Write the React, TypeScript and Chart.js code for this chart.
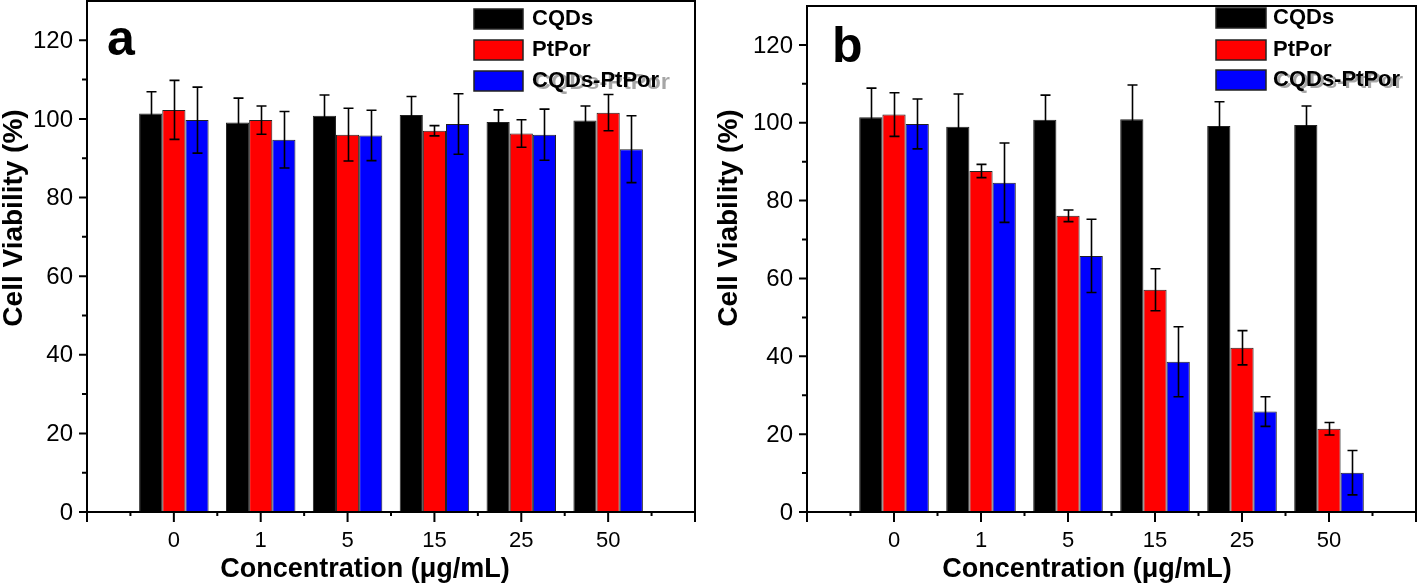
import React, { useEffect, useRef } from 'react';
import { Chart, registerables } from 'chart.js';

Chart.register(...registerables);

// ---------- data ----------
const categories = ['0', '1', '5', '15', '25', '50'];
const seriesNames = ['CQDs', 'PtPor', 'CQDs-PtPor'];
const seriesColors = ['#000000', '#ff0000', '#0000ff'];
const yMajorTicks = [0, 20, 40, 60, 80, 100, 120];
const yMinorTicks = [10, 30, 50, 70, 90, 110];
const xAxisTitle = 'Concentration (\u03bcg/mL)';
const yAxisTitle = 'Cell Viability (%)';

// panel a
const aCQDs = [101.4, 99.1, 100.8, 101.0, 99.2, 99.6];
const aCQDsErr = [5.5, 6.2, 5.3, 4.7, 3.1, 3.7];
const aPtPor = [102.3, 99.7, 96.0, 97.0, 96.3, 101.6];
const aPtPorErr = [7.5, 3.6, 6.7, 1.3, 3.5, 4.6];
const aMix = [99.7, 94.7, 95.8, 98.7, 96.0, 92.3];
const aMixErr = [8.4, 7.2, 6.4, 7.7, 6.5, 8.5];

// panel b
const bCQDs = [101.4, 99.0, 100.8, 100.9, 99.2, 99.4];
const bCQDsErr = [7.5, 8.4, 6.3, 8.8, 6.2, 4.9];
const bPtPor = [102.1, 87.6, 76.1, 57.1, 42.2, 21.4];
const bPtPorErr = [5.6, 1.7, 1.5, 5.4, 4.4, 1.6];
const bMix = [99.7, 84.6, 65.8, 38.6, 25.8, 10.1];
const bMixErr = [6.4, 10.2, 9.4, 9.0, 3.8, 5.7];

const FONT = '"Liberation Sans", Arial, Helvetica, sans-serif';

type PanelCfg = {
  letter: string;
  values: number[][];
  errs: number[][];
  left: number;
  pad: { left: number; right: number; top: number; bottom: number };
  legendBoxX: number;
  legendBoxW: number;
  legendYs: number[];
  legendTextX: number;
  ghostScale: number;
  ghostDx: number;
  yTitleX: number;
  yTitleY: number;
  xTitleX: number;
  letterX: number;
  letterY: number;
};

const W = 709;
const H = 585;

function Panel({ cfg }: { cfg: PanelCfg }) {
  const ref = useRef<HTMLCanvasElement | null>(null);

  useEffect(() => {
    if (!ref.current) return;
    const xLabels = ['', ...categories, ''];

    const decor = {
      id: 'decor',
      afterDatasetsDraw(chart: any) {
        const ctx = chart.ctx;
        const ys = chart.scales.y;
        ctx.save();
        ctx.strokeStyle = '#000';
        ctx.lineWidth = 1.6;
        cfg.values.forEach((vals, i) => {
          const meta = chart.getDatasetMeta(i);
          vals.forEach((v, j) => {
            const el = meta.data[j + 1];
            if (!el) return;
            const e = cfg.errs[i][j];
            const x = Math.round(el.x) + 0.5;
            const yt = ys.getPixelForValue(v + e);
            const yb = ys.getPixelForValue(Math.max(0, v - e));
            ctx.beginPath();
            ctx.moveTo(x, yt);
            ctx.lineTo(x, yb);
            ctx.moveTo(x - 5, yt);
            ctx.lineTo(x + 5, yt);
            ctx.moveTo(x - 5, yb);
            ctx.lineTo(x + 5, yb);
            ctx.stroke();
          });
        });
        ctx.restore();
      },
      afterDraw(chart: any) {
        const ctx = chart.ctx;
        const a = chart.chartArea;
        const xs = chart.scales.x;
        const ys = chart.scales.y;
        ctx.save();
        ctx.strokeStyle = '#000';
        ctx.fillStyle = '#000';
        ctx.lineWidth = 2;
        // frame
        ctx.beginPath();
        ctx.moveTo(a.left, a.top);
        ctx.lineTo(a.right, a.top);
        ctx.lineTo(a.right, a.bottom);
        ctx.lineTo(a.left, a.bottom);
        ctx.closePath();
        ctx.stroke();
        // y ticks
        ctx.beginPath();
        yMajorTicks.forEach((v) => {
          const y = ys.getPixelForValue(v);
          ctx.moveTo(a.left - 8, y);
          ctx.lineTo(a.left, y);
        });
        yMinorTicks.forEach((v) => {
          const y = ys.getPixelForValue(v);
          ctx.moveTo(a.left - 5, y);
          ctx.lineTo(a.left, y);
        });
        // x ticks
        for (let i = 0; i < xLabels.length; i++) {
          const x = xs.getPixelForValue(i);
          ctx.moveTo(x, a.bottom);
          ctx.lineTo(x, a.bottom + 10);
          if (i < xLabels.length - 1) {
            const xm = (x + xs.getPixelForValue(i + 1)) / 2;
            ctx.moveTo(xm, a.bottom);
            ctx.lineTo(xm, a.bottom + 4);
          }
        }
        ctx.stroke();
        // y tick labels
        ctx.font = `24px ${FONT}`;
        ctx.textAlign = 'right';
        ctx.textBaseline = 'middle';
        yMajorTicks.forEach((v) => {
          ctx.fillText(String(v), a.left - 14, ys.getPixelForValue(v) + 1);
        });
        // x tick labels
        ctx.font = `22px ${FONT}`;
        ctx.textAlign = 'center';
        xLabels.forEach((l, i) => {
          if (l) ctx.fillText(l, xs.getPixelForValue(i), 541);
        });
        // x title
        ctx.font = `bold 27px ${FONT}`;
        ctx.textBaseline = 'alphabetic';
        ctx.fillText(xAxisTitle, cfg.xTitleX, 577);
        // y title
        ctx.save();
        ctx.translate(cfg.yTitleX, cfg.yTitleY);
        ctx.rotate(-Math.PI / 2);
        ctx.font = `bold 28px ${FONT}`;
        ctx.textAlign = 'center';
        ctx.fillText(yAxisTitle, 0, 0);
        ctx.restore();
        // panel letter
        ctx.font = `bold 50px ${FONT}`;
        ctx.textAlign = 'left';
        ctx.fillText(cfg.letter, cfg.letterX, cfg.letterY);
        // legend
        ctx.font = `bold 22px ${FONT}`;
        ctx.textBaseline = 'middle';
        seriesNames.forEach((name, i) => {
          const y = cfg.legendYs[i];
          ctx.fillStyle = seriesColors[i];
          ctx.fillRect(cfg.legendBoxX, y, cfg.legendBoxW, 20);
          ctx.strokeStyle = '#222';
          ctx.lineWidth = 1.5;
          ctx.strokeRect(cfg.legendBoxX, y, cfg.legendBoxW, 20);
          if (i === 2) {
            ctx.save();
            ctx.globalAlpha = 0.35;
            ctx.fillStyle = '#000';
            ctx.translate(cfg.legendTextX + cfg.ghostDx, y + 12);
            ctx.scale(cfg.ghostScale, 1);
            ctx.fillText(name, 0, 0);
            ctx.restore();
          }
          ctx.fillStyle = '#000';
          ctx.fillText(name, cfg.legendTextX, y + 10);
        });
        ctx.restore();
      },
    };

    const chart = new Chart(ref.current, {
      type: 'bar',
      data: {
        labels: xLabels,
        datasets: cfg.values.map((vals, i) => ({
          label: seriesNames[i],
          data: [null, ...vals, null],
          backgroundColor: seriesColors[i],
          borderColor: '#222',
          borderWidth: 1,
          categoryPercentage: 0.8,
          barPercentage: 1.0,
        })),
      },
      options: {
        responsive: false,
        animation: false,
        devicePixelRatio: 1,
        layout: { padding: cfg.pad },
        plugins: {
          legend: { display: false },
          tooltip: { enabled: false },
          title: { display: false },
        },
        scales: {
          x: { type: 'category', offset: false, display: false, grid: { display: false } },
          y: { type: 'linear', min: 0, max: 130, display: false, grid: { display: false } },
        },
      } as any,
      plugins: [decor],
    });
    return () => chart.destroy();
  }, [cfg]);

  return (
    <div style={{ position: 'absolute', left: cfg.left, top: 0, width: W, height: H }}>
      <canvas ref={ref} width={W} height={H} style={{ display: 'block' }} />
    </div>
  );
}

const panelA: PanelCfg = {
  letter: 'a',
  values: [aCQDs, aPtPor, aMix],
  errs: [aCQDsErr, aPtPorErr, aMixErr],
  left: 0,
  pad: { left: 87, right: 14, top: 1, bottom: 73 },
  legendBoxX: 474,
  legendBoxW: 49,
  legendYs: [9, 40, 71],
  legendTextX: 532,
  ghostScale: 1.07,
  ghostDx: 2,
  yTitleX: 22,
  yTitleY: 218,
  xTitleX: 365,
  letterX: 107,
  letterY: 55,
};

const panelB: PanelCfg = {
  letter: 'b',
  values: [bCQDs, bPtPor, bMix],
  errs: [bCQDsErr, bPtPorErr, bMixErr],
  left: 709,
  pad: { left: 98, right: 2, top: 6, bottom: 73 },
  legendBoxX: 507,
  legendBoxW: 50,
  legendYs: [8, 40, 70],
  legendTextX: 564,
  ghostScale: 1.0,
  ghostDx: 3,
  yTitleX: 737 - 709,
  yTitleY: 218,
  xTitleX: 378,
  letterX: 123,
  letterY: 62,
};

export default function App() {
  return (
    <div style={{ position: 'absolute', left: 0, top: 0, width: 1418, height: 585, background: '#fff' }}>
      <Panel cfg={panelA} />
      <Panel cfg={panelB} />
    </div>
  );
}
